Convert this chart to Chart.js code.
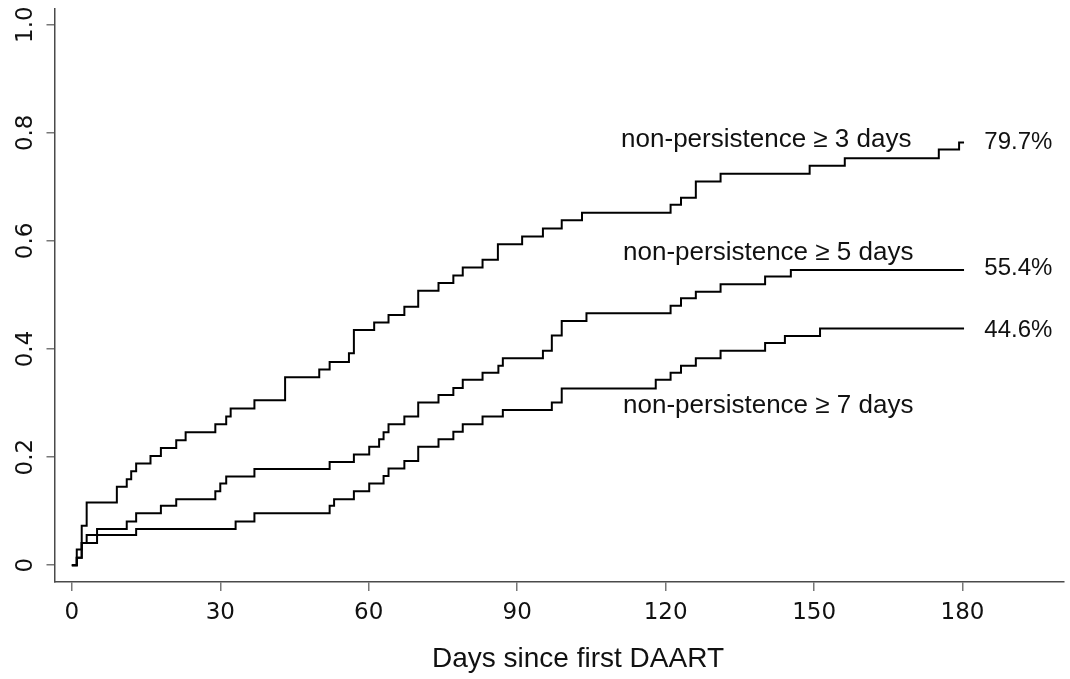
<!DOCTYPE html>
<html>
<head>
<meta charset="utf-8">
<title>Days since first DAART</title>
<script src="https://cdn.jsdelivr.net/npm/chart.js@4.4.1/dist/chart.umd.min.js"></script>
<style>
  html, body { margin: 0; padding: 0; background: #fff; }
  #wrap { width: 1070px; height: 679px; }
</style>
</head>
<body>
<div id="wrap"><canvas id="km" width="1070" height="679"></canvas></div>
<script>
// cumulative non-persistence (step curves)

// >= 3 days
const days3 = [0, 1.0, 2.0, 3.0, 9.1, 11.1, 12.0, 13.0, 15.9, 18.0, 21.1, 23.0, 29.0, 31.2, 32.1, 36.9,
               43.1, 50.0, 52.1, 56.0, 57.0, 61.1, 64.0, 67.2, 70.0, 74.1, 77.1, 79.0, 83.0, 86.1,
               91.0, 95.2, 99.0, 103.1, 121.0, 123.1, 126.1, 131.1, 149.1, 156.2, 175.2, 179.3, 180.3];
const cum3  = [0, 0.029, 0.073, 0.116, 0.145, 0.159, 0.174, 0.188, 0.202, 0.217, 0.231, 0.246, 0.261, 0.275, 0.290, 0.305,
               0.348, 0.362, 0.376, 0.392, 0.435, 0.449, 0.463, 0.478, 0.508, 0.522, 0.536, 0.551, 0.565, 0.594,
               0.608, 0.623, 0.638, 0.652, 0.667, 0.680, 0.710, 0.724, 0.739, 0.753, 0.769, 0.782, 0.782];

// >= 5 days
const days5 = [0, 1.0, 2.0, 3.0, 5.1, 11.1, 13.0, 18.0, 21.1, 29.0, 30.0, 31.2, 36.9, 52.1, 57.0, 60.1,
               62.1, 63.0, 64.0, 67.2, 70.0, 74.1, 77.1, 79.0, 83.0, 86.2, 87.1, 95.2, 97.0, 99.0,
               104.0, 121.0, 123.1, 126.1, 131.1, 140.1, 145.3, 180.3];
const cum5  = [0, 0.014, 0.041, 0.056, 0.067, 0.081, 0.096, 0.110, 0.122, 0.137, 0.151, 0.164, 0.178, 0.191, 0.205, 0.219,
               0.233, 0.246, 0.261, 0.275, 0.301, 0.315, 0.328, 0.343, 0.356, 0.369, 0.383, 0.397, 0.425, 0.452,
               0.466, 0.480, 0.494, 0.506, 0.520, 0.534, 0.546, 0.546];

// >= 7 days
const days7 = [0, 1.0, 2.0, 5.1, 13.0, 33.1, 36.9, 52.1, 53.0, 57.0, 60.1, 63.0, 64.0, 67.2, 70.0,
               74.1, 77.1, 79.0, 83.0, 87.1, 97.0, 99.0, 118.0, 121.0, 123.1, 126.1, 131.1, 140.1,
               144.1, 151.2, 180.3];
const cum7  = [0, 0.014, 0.041, 0.056, 0.067, 0.081, 0.096, 0.110, 0.122, 0.137, 0.151, 0.165, 0.179, 0.193, 0.219,
               0.233, 0.247, 0.261, 0.275, 0.287, 0.301, 0.327, 0.343, 0.356, 0.369, 0.383, 0.397, 0.411,
               0.424, 0.438, 0.438];

const xTicks = [0, 30, 60, 90, 120, 150, 180];
const yTicks = [0, 0.2, 0.4, 0.6, 0.8, 1.0];
const yTickLabels = ['0', '0.2', '0.4', '0.6', '0.8', '1.0'];

const curveNames = ['non-persistence ≥ 3 days', 'non-persistence ≥ 5 days', 'non-persistence ≥ 7 days'];
const endValues  = ['79.7%', '55.4%', '44.6%'];
const xTitle = 'Days since first DAART';

const toPts = (xs, ys) => xs.map((x, i) => ({ x: x, y: ys[i] }));

const axisColor = '#4a4a4a';
const tickFont  = { family: 'DejaVu Sans', size: 23 };

// curve names, end percentages and x title — placed in data units
const textPlugin = {
  id: 'kmText',
  afterDraw(chart) {
    const { ctx, scales: { x, y } } = chart;
    ctx.save();
    ctx.fillStyle = '#111';
    ctx.textBaseline = 'alphabetic';
    ctx.textAlign = 'left';

    ctx.font = '26px "Liberation Sans", Arial, sans-serif';
    const namePos = [[111.0, 0.774], [111.4, 0.565], [111.4, 0.281]];
    curveNames.forEach((t, i) => {
      ctx.fillText(t, x.getPixelForValue(namePos[i][0]), y.getPixelForValue(namePos[i][1]));
    });

    ctx.font = '24px "Liberation Sans", Arial, sans-serif';
    const endY = [0.770, 0.537, 0.422];
    endValues.forEach((t, i) => {
      ctx.fillText(t, x.getPixelForValue(184.4), y.getPixelForValue(endY[i]));
    });

    ctx.font = '28px "Liberation Sans", Arial, sans-serif';
    ctx.textAlign = 'center';
    ctx.textBaseline = 'middle';
    ctx.fillText(xTitle, 578, 659);
    ctx.restore();
  }
};

const lineStyle = {
  borderColor: '#000',
  borderWidth: 2,
  stepped: 'before',
  pointRadius: 0,
  fill: false,
};

new Chart(document.getElementById('km'), {
  type: 'line',
  data: {
    datasets: [
      { label: curveNames[0], data: toPts(days3, cum3), ...lineStyle },
      { label: curveNames[1], data: toPts(days5, cum5), ...lineStyle },
      { label: curveNames[2], data: toPts(days7, cum7), ...lineStyle },
    ],
  },
  options: {
    responsive: false,
    animation: false,
    devicePixelRatio: 1,
    layout: { padding: { left: 0, top: 9, right: 6, bottom: 0 } },
    plugins: { legend: { display: false }, tooltip: { enabled: false } },
    scales: {
      x: {
        type: 'linear',
        min: -3.5,
        max: 200.5,
        afterBuildTicks: s => { s.ticks = xTicks.map(v => ({ value: v })); },
        afterFit: s => { s.height = 97; s.paddingLeft = 0; s.paddingRight = 0; },
        ticks: { color: '#111', font: tickFont, padding: 8, maxRotation: 0, autoSkip: false },
        grid: { display: true, drawOnChartArea: false, drawTicks: true, tickLength: 9, color: '#777', lineWidth: 1.5 },
        border: { display: true, color: axisColor, width: 1.5 },
      },
      y: {
        type: 'linear',
        min: -0.031,
        max: 1.029,
        afterBuildTicks: s => { s.ticks = yTicks.map(v => ({ value: v })); },
        afterFit: s => { s.width = 54.5; s.paddingTop = 0; s.paddingBottom = 0; },
        ticks: {
          color: '#111',
          font: tickFont,
          padding: 2,
          minRotation: 90,
          maxRotation: 90,
          crossAlign: 'center',
          callback: (v) => yTickLabels[yTicks.indexOf(Math.round(v * 10) / 10)] ?? '',
        },
        grid: { display: true, drawOnChartArea: false, drawTicks: true, tickLength: 8, color: '#777', lineWidth: 1.5 },
        border: { display: true, color: axisColor, width: 1.5 },
      },
    },
  },
  plugins: [textPlugin],
});
</script>
</body>
</html>
